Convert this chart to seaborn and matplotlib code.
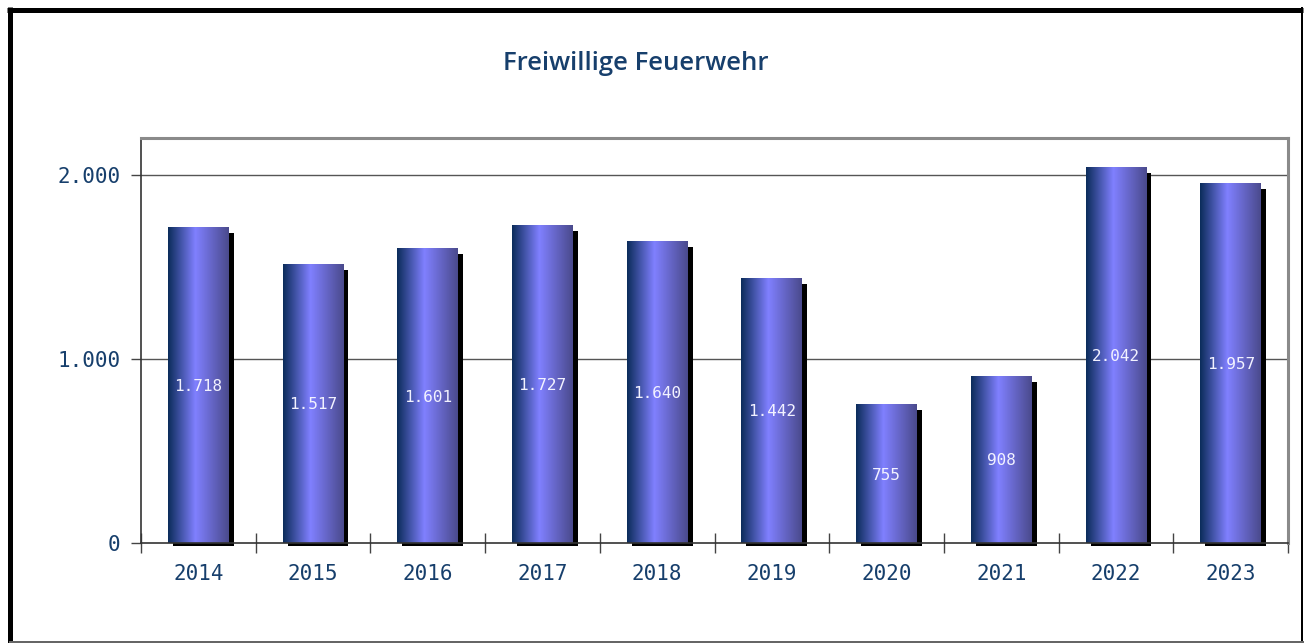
import matplotlib
matplotlib.use("Agg")
import matplotlib.pyplot as plt
import matplotlib.transforms as mtransforms
from matplotlib.colors import LinearSegmentedColormap
from matplotlib.patches import Rectangle
from matplotlib.lines import Line2D
import numpy as np
import pandas as pd
import seaborn as sns

# Einsätze der Freiwilligen Feuerwehr pro Jahr
years = ["2014", "2015", "2016", "2017", "2018", "2019", "2020", "2021", "2022", "2023"]
counts = [1718, 1517, 1601, 1727, 1640, 1442, 755, 908, 2042, 1957]
y_ticks = [0, 1000, 2000]
y_tick_labels = ["0", "1.000", "2.000"]
title = "Freiwillige Feuerwehr"

NAVY = "#173f6c"
W, H, DPI = 1304, 643, 100
AX_H_PX = 543 - 138

sns.set_theme(style="white")
plt.rcParams["font.family"] = ["DejaVu Sans"]

fig = plt.figure(figsize=(W / DPI, H / DPI), dpi=DPI)
fig.patch.set_facecolor("white")
ax = fig.add_axes([141 / W, (H - 543) / H, 1147 / W, AX_H_PX / H])

df = pd.DataFrame({"Jahr": years, "Einsätze": counts})
sns.barplot(data=df, x="Jahr", y="Einsätze", width=0.53, color="#7b7bff",
            ax=ax, saturation=1, zorder=3)

# horizontal cylinder-like shading of each bar
cmap = LinearSegmentedColormap.from_list(
    "bar_shade",
    [(0.0, "#0b2c5a"), (0.45, "#8080ff"), (1.0, "#4a4a8c")])
grad = np.linspace(0, 1, 256).reshape(1, -1)
shadow_tf = mtransforms.offset_copy(ax.transData, fig=fig, x=5, y=-6, units="dots")
# drop shadows may reach only a couple of pixels below the baseline
shadow_clip = mtransforms.TransformedBbox(
    mtransforms.Bbox([[0, -2.5 / AX_H_PX], [1.02, 1]]), ax.transAxes)

for patch, v in zip(ax.patches, counts):
    x0, w = patch.get_x(), patch.get_width()
    h = patch.get_height()
    shadow = Rectangle((x0, 0), w, h, facecolor="black", edgecolor="none",
                       transform=shadow_tf, zorder=2)
    ax.add_patch(shadow)
    shadow.set_clip_box(shadow_clip)
    im = ax.imshow(grad, cmap=cmap, extent=[x0, x0 + w, 0, h], aspect="auto",
                   zorder=4, interpolation="bilinear")
    im.set_clip_path(patch)
    patch.set_facecolor("none")
    patch.set_edgecolor("none")
    ax.text(x0 + w / 2, h / 2, f"{v:,}".replace(",", "."), ha="center",
            va="center_baseline", color="#f2f2ff", fontsize=11.5,
            family="DejaVu Sans Mono", zorder=5)

ax.set_xlim(-0.5, len(years) - 0.5)
ax.set_ylim(0, 2200)

# grid lines
for yv in y_ticks[1:]:
    ax.axhline(yv, color="#555555", lw=1, zorder=1)

# axes and ticks
ax.set_xlabel("")
ax.set_ylabel("")
ax.set_xticks(np.arange(-0.5, len(years), 1.0))
ax.set_xticklabels([])
ax.set_xticks(np.arange(len(years)), minor=True)
ax.set_xticklabels(years, minor=True)
ax.tick_params(axis="x", which="major", direction="inout", length=14, width=1,
               color="#444444", bottom=True)
ax.tick_params(axis="x", which="minor", length=0, pad=15, labelsize=15,
               labelcolor=NAVY, bottom=True)
for lbl in ax.get_xticklabels(minor=True):
    lbl.set_family("DejaVu Sans Mono")

ax.set_yticks(y_ticks)
ax.set_yticklabels(y_tick_labels)
ax.tick_params(axis="y", direction="out", length=7, width=1, color="#444444",
               left=True, pad=8, labelsize=15, labelcolor=NAVY)
for lbl in ax.get_yticklabels():
    lbl.set_family("DejaVu Sans Mono")

for side in ("left", "bottom"):
    ax.spines[side].set_color("#333333")
    ax.spines[side].set_linewidth(1.2)
    ax.spines[side].set_visible(True)
for side in ("top", "right"):
    ax.spines[side].set_color("#8a8a8a")
    ax.spines[side].set_linewidth(2.2)
    ax.spines[side].set_visible(True)
ax.spines["bottom"].set_zorder(6)

fig.text(636 / W, 1 - 63 / H, title, ha="center", va="center", color=NAVY,
         fontsize=18.5, fontweight="semibold", family=["Open Sans", "DejaVu Sans"])

# frame around the whole chart
def px_line(xs, ys, color, lw_px):
    fig.add_artist(Line2D([x / W for x in xs], [1 - y / H for y in ys],
                          transform=fig.transFigure, color=color,
                          lw=lw_px * 72 / DPI, solid_capstyle="butt"))

px_line([9.5, 9.5], [7, 643], "black", 5)
px_line([7, 1303], [9.5, 9.5], "black", 5)
px_line([1302, 1302], [7, 643], "black", 2)
px_line([9, 1304], [641.5, 641.5], "#666666", 2)

fig.savefig("out.png", dpi=DPI)
